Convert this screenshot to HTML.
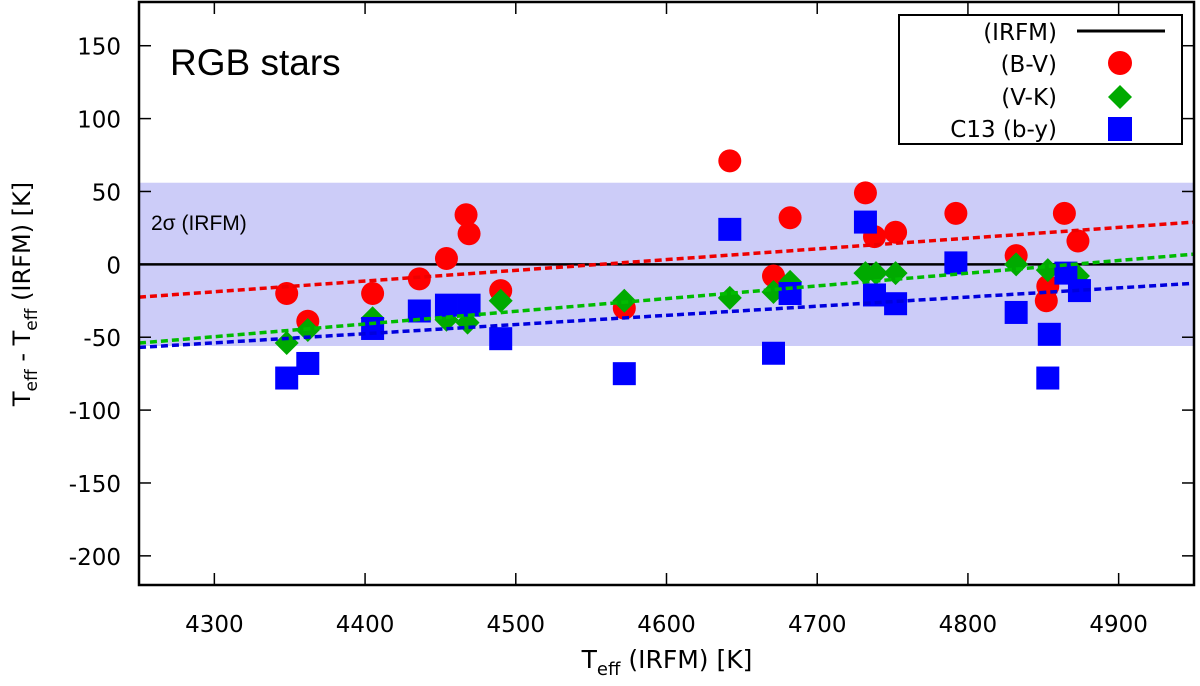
<!DOCTYPE html>
<html><head><meta charset="utf-8"><style>
body{margin:0;background:#fff}
svg{display:block;font-family:"DejaVu Sans","Liberation Sans",sans-serif}
</style></head><body>
<svg id="chart" width="1200" height="686">
<rect x="139" y="183" width="1055" height="164" fill="#ccccf8" id="band"/>
<g id="marks"></g>
<rect x="139" y="2" width="1055" height="583" fill="none" stroke="#000" stroke-width="2.5"/>
<g id="axes"></g>
<text x="170" y="75" font-size="37" font-family="Liberation Sans, sans-serif">RGB stars</text>
<text x="151" y="230" font-size="21" font-family="Liberation Sans, sans-serif">2σ (IRFM)</text>
<text x="667" y="668" text-anchor="middle" font-size="25">T<tspan font-size="18" dy="7">eff</tspan><tspan dy="-7"> (IRFM) [K]</tspan></text>
<text transform="translate(30,294) rotate(-90)" text-anchor="middle" font-size="24">T<tspan font-size="17" dy="7">eff</tspan><tspan dy="-7"> - T</tspan><tspan font-size="17" dy="7">eff</tspan><tspan dy="-7"> (IRFM) [K]</tspan></text>
<g>
<rect x="899" y="15" width="283" height="129" fill="#fff" stroke="#000" stroke-width="2"/>
<text x="1057" y="40" text-anchor="end" font-size="23">(IRFM)</text>
<line x1="1077" y1="31" x2="1165" y2="31" stroke="#000" stroke-width="3"/>
<text x="1057" y="72" text-anchor="end" font-size="23">(B-V)</text>
<circle cx="1120" cy="63" r="12" fill="#f00"/>
<text x="1057" y="105" text-anchor="end" font-size="23">(V-K)</text>
<polygon points="1120,85 1132,97 1120,109 1108,97" fill="#0a0"/>
<text x="1057" y="137" text-anchor="end" font-size="23">C13 (b-y)</text>
<rect x="1108" y="117" width="24" height="24" fill="#00f"/>
</g>
</svg>
<script>
const xTicks=[4300,4400,4500,4600,4700,4800,4900];
const yTicks=[150,100,50,0,-50,-100,-150,-200];
const bvT=[4348,4362,4405,4436,4454,4467,4469,4490,4572,4642,4671,4682,4732,4738,4752,4792,4832,4853,4852,4864,4873];
const bvD=[-20,-39,-20,-10,4,34,21,-18,-30,71,-8,32,49,19,22,35,6,-15,-25,35,16];
const vkT=[4348,4362,4405,4454,4468,4490,4572,4642,4671,4682,4732,4739,4752,4832,4853,4873];
const vkD=[-54,-45,-37,-38,-40,-25,-25,-23,-19,-12,-6,-6,-6,0,-4,-8];
const byT=[4348,4362,4405,4436,4454,4469,4490,4572,4642,4671,4682,4732,4738,4752,4792,4832,4854,4853,4865,4874];
const byD=[-78,-68,-44,-32,-28,-28,-51,-75,24,-61,-20,29,-21,-27,1,-33,-48,-78,-6,-18];
const fitBV=[-22.5,29];
const fitVK=[-54,7];
const fitBY=[-57,-13];
const band=[-56,56];
const X0=4250,X1=4950,Y0=-220,Y1=180;
const L=139,R=1194,T=2,B=585;
const sx=v=>L+(v-X0)/(X1-X0)*(R-L);
const sy=v=>B-(v-Y0)/(Y1-Y0)*(B-T);
const NS="http://www.w3.org/2000/svg";
function mk(tag,attrs,parent){const e=document.createElementNS(NS,tag);for(const k in attrs)e.setAttribute(k,attrs[k]);parent.appendChild(e);return e;}
const ax=document.getElementById('axes'),mg=document.getElementById('marks');
const bd=document.getElementById('band');
bd.setAttribute('y',sy(band[1]));bd.setAttribute('height',sy(band[0])-sy(band[1]));
xTicks.forEach(v=>{const x=sx(v);
 mk('line',{x1:x,y1:B,x2:x,y2:B-12,stroke:'#000','stroke-width':1.5},ax);
 mk('line',{x1:x,y1:T,x2:x,y2:T+12,stroke:'#000','stroke-width':1.5},ax);
 const t=mk('text',{x:x,y:632,'text-anchor':'middle','font-size':23},ax);t.textContent=v;
 
 });
yTicks.forEach(v=>{const y=sy(v);
 mk('line',{x1:L,y1:y,x2:L+12,y2:y,stroke:'#000','stroke-width':1.5},ax);
 mk('line',{x1:R,y1:y,x2:R-12,y2:y,stroke:'#000','stroke-width':1.5},ax);
 const t=mk('text',{x:121,y:y+9,'text-anchor':'end','font-size':23},ax);t.textContent=v;
 
 });
const zl=mk('line',{x1:L,y1:sy(0),x2:R,y2:sy(0),stroke:'#000','stroke-width':2.5},mg);


function fit(f,c,n){const l=mk('line',{x1:L,y1:sy(f[0]),x2:R,y2:sy(f[1]),stroke:c,'stroke-width':3.5,'stroke-dasharray':'7,4'},mg);
 
 }
bvT.forEach((t,i)=>{const c=mk('circle',{cx:sx(t),cy:sy(bvD[i]),r:11.5,fill:'#f00'},mg);
 
 });
vkT.forEach((t,i)=>{const x=sx(t),y=sy(vkD[i]);const p=mk('polygon',{points:`${x},${y-12} ${x+12},${y} ${x},${y+12} ${x-12},${y}`,fill:'#0a0'},mg);
 
 });
byT.forEach((t,i)=>{const r=mk('rect',{x:sx(t)-11.5,y:sy(byD[i])-11.5,width:23,height:23,fill:'#00f'},mg);
 
 });
fit(fitBV,'#e00','bv-fit-line');
fit(fitVK,'#0b0','vk-fit-line');
fit(fitBY,'#00d','by-fit-line');
</script>
</body></html>
